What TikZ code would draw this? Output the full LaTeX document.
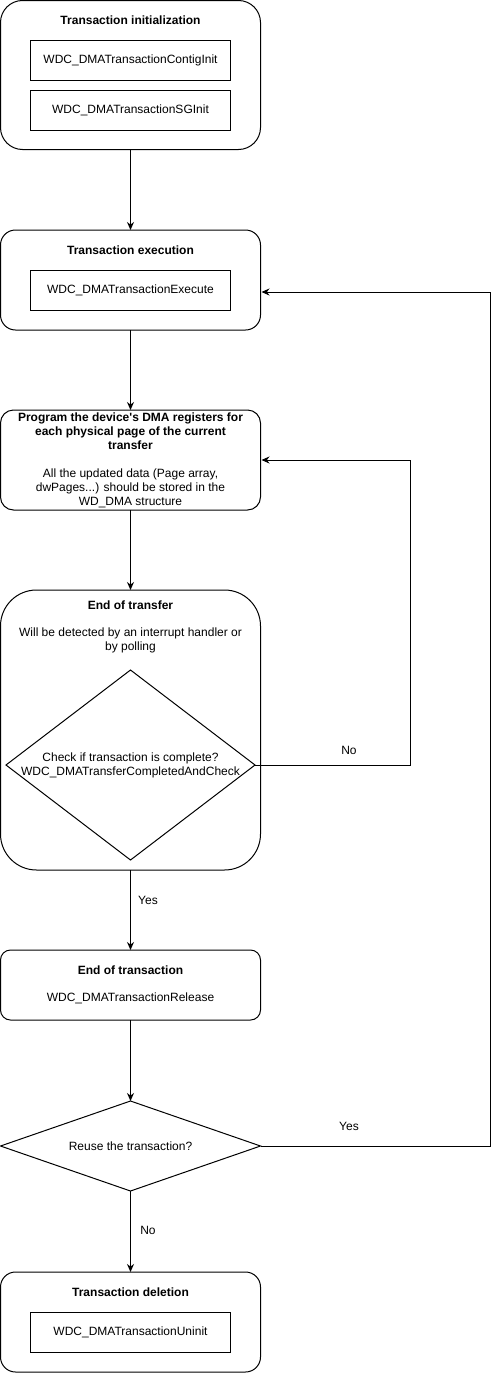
\documentclass[tikz,border=0pt]{standalone}
\usepackage{fontspec}
\setmainfont{Liberation Sans}
\usetikzlibrary{arrows.meta,positioning,shapes.geometric}
\tikzset{%
  arrow/.style={line width=1pt,-{Stealth[length=8pt,width=7pt]}},
  container/.style={draw,line width=1pt,minimum width=260pt,inner sep=0pt,outer sep=0pt},
  inner/.style={draw,line width=1pt,minimum width=200pt,minimum height=40pt,outer sep=0pt},
  title/.style={font=\fontsize{12}{14}\selectfont\bfseries},
  decision/.style={diamond,draw,line width=1pt,inner sep=0pt,outer sep=0pt},
  lbl/.style={inner sep=0pt},
}

\begin{document}
\begin{tikzpicture}[x=1pt,y=-1pt,node distance=80pt,font=\fontsize{12}{14}\selectfont]
  \useasboundingbox (0,0) rectangle (498,1373);

  % containers
  \node[container,minimum height=149pt,rounded corners=22pt,anchor=north west] (init) at (0.5,0.5) {};
  \node[container,minimum height=100pt,rounded corners=15pt,below=80.5pt of init] (exec) {};
  \node[container,minimum height=100pt,rounded corners=13pt,below=of exec] (program) {};
  \node[container,minimum height=280pt,rounded corners=36pt,below=of program] (transfer) {};
  \node[container,minimum height=70pt,rounded corners=10pt,below=of transfer] (release) {};
  \node[decision,minimum width=260pt,minimum height=90pt,below=81pt of release] (reuse) {};
  \node[container,minimum height=100pt,rounded corners=15pt,below=81pt of reuse] (delete) {};

  % initialization
  \node[title,yshift=-20pt] (inittitle) at (init.north) {Transaction initialization};
  \node[inner,below=40pt of init.north] (contig) {WDC\_DMATransactionContigInit};
  \node[inner,below=10pt of contig] (sginit) {WDC\_DMATransactionSGInit};

  % execution
  \node[title,yshift=-20pt] (exectitle) at (exec.north) {Transaction execution};
  \node[inner,below=40pt of exec.north] (execute) {WDC\_DMATransactionExecute};

  % registers
  \node[align=center] (progtxt) at (program) {\textbf{Program the device\textquotesingle s DMA registers for}\\
    \textbf{each physical page of the current}\\\textbf{transfer}\\[14pt]
    All the updated data (Page array,\\dwPages...) should be stored in the\\WD\_DMA structure};

  % end of transfer
  \node[title,yshift=-15pt] (transfertitle) at (transfer.north) {End of transfer};
  \node[align=center,yshift=-50pt] (transfertxt) at (transfer.north) {Will be detected by an interrupt handler or\\by polling};
  \node[decision,minimum width=249pt,minimum height=190pt,above=10pt of transfer.south] (check) {};
  \node[align=center] (checktxt) at (check) {Check if transaction is complete?\\WDC\_DMATransferCompletedAndCheck};

  % end of transaction
  \node[title,yshift=-20pt] (releasetitle) at (release.north) {End of transaction};
  \node[yshift=-48pt] (releasetxt) at (release.north) {WDC\_DMATransactionRelease};

  \node (reusetxt) at (reuse) {Reuse the transaction?};

  % deletion
  \node[title,yshift=-20pt] (deletetitle) at (delete.north) {Transaction deletion};
  \node[inner,below=40pt of delete.north] (uninit) {WDC\_DMATransactionUninit};

  % flow
  \draw[arrow] (init) -- (exec);
  \draw[arrow] (exec) -- (program);
  \draw[arrow] (program) -- (transfer);
  \draw[arrow] (transfer) -- (release);
  \draw[arrow] (release) -- (reuse);
  \draw[arrow] (reuse) -- (delete);
  \draw[arrow] (check.east) -- ++(155,0) |- ([xshift=1pt]program.east);
  \draw[arrow] (reuse.east) -- ++(230,0) |- ([xshift=1pt,yshift=-12pt]exec.east);

  \node[lbl] (nolbl) at (349,750) {No};
  \node[lbl] (yeslbl) at (349,1126) {Yes};
  \node[lbl] (donelbl) at (148,900) {Yes};
  \node[lbl] (keeplbl) at (148,1230) {No};
\end{tikzpicture}
\end{document}
